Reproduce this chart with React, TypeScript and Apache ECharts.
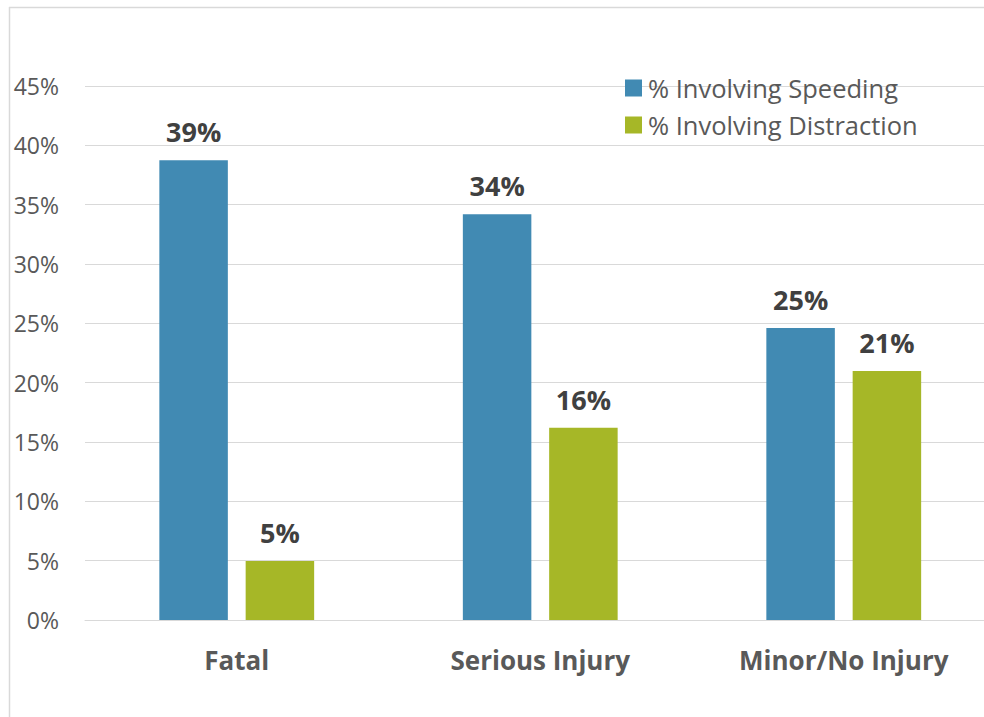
import React, { useEffect, useRef } from "react";
import * as echarts from "echarts";

const categories = ["Fatal", "Serious Injury", "Minor/No Injury"];
const speeding = [38.75, 34.2, 24.6];
const distraction = [4.97, 16.2, 20.98];
const seriesNames = ["% Involving Speeding", "% Involving Distraction"];
const yTicks = { min: 0, max: 45, interval: 5 };

const FONT = "'Open Sans', 'Noto Sans', sans-serif";
const BORDER = "#d9d9d9";

export default function App() {
  const ref = useRef<HTMLDivElement>(null);

  useEffect(() => {
    if (!ref.current) return;
    const chart = echarts.init(ref.current, null, { renderer: "svg" });

    const dataLabel = {
      show: true,
      position: "top",
      distance: 15,
      fontFamily: FONT,
      fontWeight: "bold",
      fontSize: 27,
      color: "#404040",
      formatter: (p: any) => Math.round(p.value) + "%",
    };

    chart.setOption({
      animation: false,
      backgroundColor: "#ffffff",
      textStyle: { fontFamily: FONT },
      // plot area runs a little past the visible right edge
      grid: { left: 85, top: 86, width: 910.5, height: 534, containLabel: false },
      legend: {
        orient: "vertical",
        left: 625,
        top: 75,
        padding: 0,
        itemWidth: 17,
        itemHeight: 17,
        itemGap: 11,
        icon: "rect",
        textStyle: { fontFamily: FONT, fontSize: 25.5, color: "#595959", padding: [0, 0, 0, 1] },
        data: seriesNames,
      },
      xAxis: {
        type: "category",
        data: categories,
        axisLine: { show: true, lineStyle: { color: BORDER, width: 1 } },
        axisTick: { show: false },
        axisLabel: {
          margin: 27,
          fontFamily: FONT,
          fontWeight: "bold",
          fontSize: 26,
          color: "#595959",
        },
      },
      yAxis: {
        type: "value",
        min: yTicks.min,
        max: yTicks.max,
        interval: yTicks.interval,
        axisLine: { show: false },
        axisTick: { show: false },
        splitLine: { lineStyle: { color: BORDER, width: 1 } },
        axisLabel: {
          margin: 26,
          fontFamily: FONT,
          fontSize: 23,
          color: "#595959",
          formatter: "{value}%",
        },
      },
      series: [
        {
          name: seriesNames[0],
          type: "bar",
          data: speeding,
          barWidth: 68.5,
          barGap: "26%",
          itemStyle: { color: "#418AB3" },
          label: dataLabel,
        },
        {
          name: seriesNames[1],
          type: "bar",
          data: distraction,
          barWidth: 68.5,
          barGap: "26%",
          itemStyle: { color: "#A6B727" },
          label: dataLabel,
        },
      ],
      graphic: [
        {
          type: "line",
          shape: { x1: 9, y1: 7.5, x2: 1000, y2: 7.5 },
          style: { stroke: BORDER, lineWidth: 1.5 },
          silent: true,
        },
        {
          type: "line",
          shape: { x1: 9.5, y1: 7, x2: 9.5, y2: 717 },
          style: { stroke: BORDER, lineWidth: 1.5 },
          silent: true,
        },
      ],
    });

    return () => chart.dispose();
  }, []);

  return (
    <div
      style={{
        position: "fixed",
        left: 0,
        top: 0,
        width: 984,
        height: 717,
        overflow: "hidden",
        background: "#fff",
      }}
    >
      <div ref={ref} style={{ width: 1000, height: 717 }} />
    </div>
  );
}
